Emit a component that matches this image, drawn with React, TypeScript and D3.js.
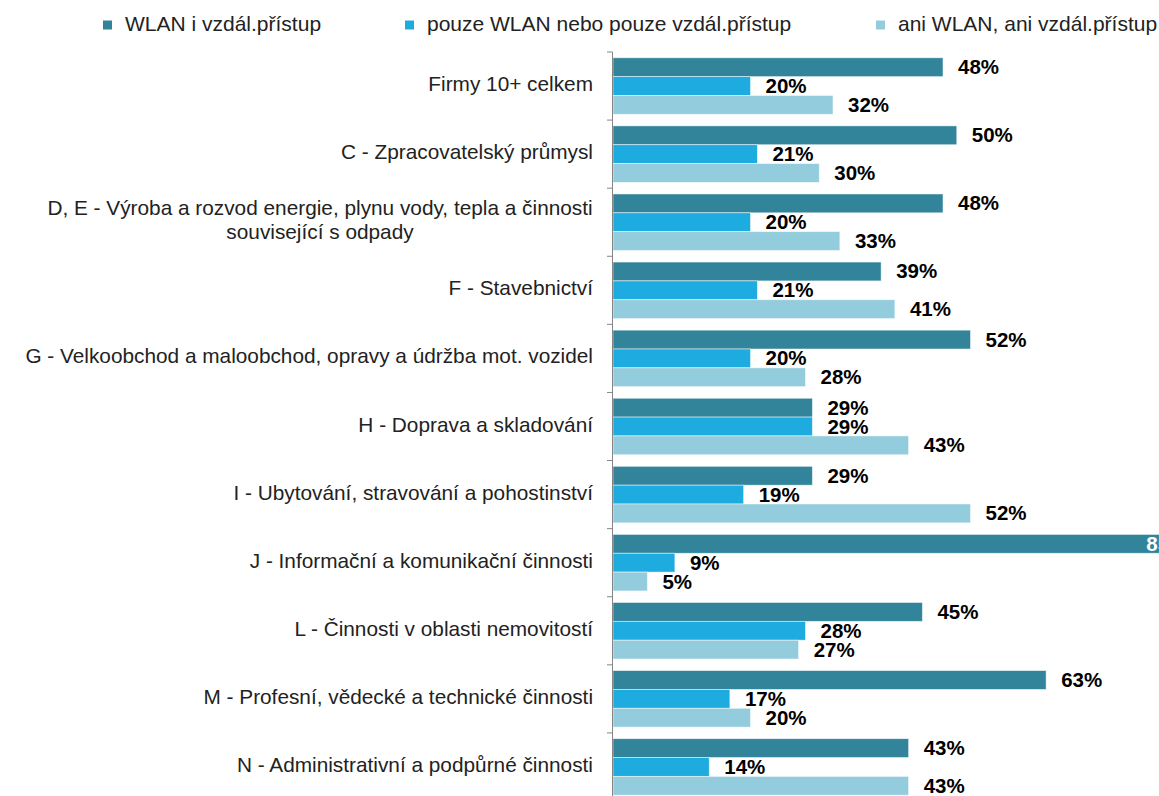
import React from "react";
import * as d3 from "d3";

const categories: string[][] = [
  ["Firmy 10+ celkem"],
  ["C - Zpracovatelský průmysl"],
  ["D, E - Výroba a rozvod energie, plynu vody, tepla a činnosti", "související s odpady"],
  ["F - Stavebnictví"],
  ["G - Velkoobchod a maloobchod, opravy a údržba mot. vozidel"],
  ["H - Doprava a skladování"],
  ["I - Ubytování, stravování a pohostinství"],
  ["J - Informační a komunikační činnosti"],
  ["L - Činnosti v oblasti nemovitostí"],
  ["M - Profesní, vědecké a technické činnosti"],
  ["N - Administrativní a podpůrné činnosti"],
];

const seriesNames = [
  "WLAN i vzdál.přístup",
  "pouze WLAN nebo pouze vzdál.přístup",
  "ani WLAN, ani vzdál.přístup",
];

const wlanAndRemote = [48, 50, 48, 39, 52, 29, 29, 85, 45, 63, 43];
const onlyOne = [20, 21, 20, 21, 20, 29, 19, 9, 28, 17, 14];
const neither = [32, 30, 33, 41, 28, 43, 52, 5, 27, 20, 43];

const colors = ["#32849b", "#1eabdf", "#93cddd"];

const W = 1159;
const H = 796;
const FONT = "'Liberation Sans', Arial, sans-serif";

export default function App() {
  const keys = categories.map((c) => c.join(" "));
  const series = [wlanAndRemote, onlyOne, neither];

  const x = d3.scaleLinear().domain([0, 100]).range([613, 1300.5]);
  const y = d3
    .scaleBand<string>()
    .domain(keys)
    .range([52, 801])
    .paddingInner(0.17)
    .paddingOuter(0.085);
  const ySub = d3
    .scaleBand<number>()
    .domain([0, 1, 2])
    .range([0, y.bandwidth()]);
  const step = y.step();
  const axisX = 612.5;

  const legendX = [103, 405, 876];

  return (
    <svg
      width={W}
      height={H}
      style={{ position: "absolute", left: 0, top: 0, overflow: "hidden", background: "#fff" }}
      fontFamily={FONT}
    >
      <rect x={0} y={0} width={W} height={H} fill="#fff" />
      {/* legend */}
      {seriesNames.map((s, i) => (
        <g key={s}>
          <rect x={legendX[i]} y={20.5} width={9} height={9} fill={colors[i]} />
          <text x={legendX[i] + 22} y={30.5} fontSize={21} fill="#222">
            {s}
          </text>
        </g>
      ))}
      {/* bars */}
      {keys.map((k, ci) =>
        series.map((vals, si) => {
          const v = vals[ci];
          const y0 = (y(k) as number) + (ySub(si) as number);
          const bh = ySub.bandwidth();
          const xe = x(v);
          const overflow = xe + 60 > W;
          return (
            <g key={k + si}>
              <rect
                x={x(0)}
                y={y0}
                width={xe - x(0)}
                height={bh}
                fill={colors[si]}
                stroke="#ffffff"
                strokeOpacity={0.6}
                strokeWidth={0.8}
              />
              <text
                x={overflow ? xe - 10 : xe + 15}
                y={y0 + bh / 2 + 7}
                textAnchor={overflow ? "end" : "start"}
                fontSize={20.5}
                fontWeight="bold"
                fill={overflow ? "#fff" : "#000"}
              >
                {v}%
              </text>
            </g>
          );
        })
      )}
      {/* axis */}
      <line x1={axisX} x2={axisX} y1={52} y2={H} stroke="#868686" strokeWidth={1} />
      {d3.range(keys.length + 1).map((i) => (
        <line
          key={i}
          x1={607}
          x2={axisX}
          y1={52 + i * step}
          y2={52 + i * step}
          stroke="#868686"
          strokeWidth={1}
        />
      ))}
      {/* category labels */}
      {categories.map((lines, ci) => {
        const cy = (y(keys[ci]) as number) + y.bandwidth() / 2;
        const lh = 24;
        return (
          <text
            key={ci}
            fontSize={20.8}
            fill="#222"
            textAnchor={lines.length > 1 ? "middle" : "end"}
          >
            {lines.map((ln, li) => (
              <tspan
                key={li}
                x={lines.length > 1 ? 320 : 593}
                y={cy + (li - (lines.length - 1) / 2) * lh + 5}
              >
                {ln}
              </tspan>
            ))}
          </text>
        );
      })}
    </svg>
  );
}
